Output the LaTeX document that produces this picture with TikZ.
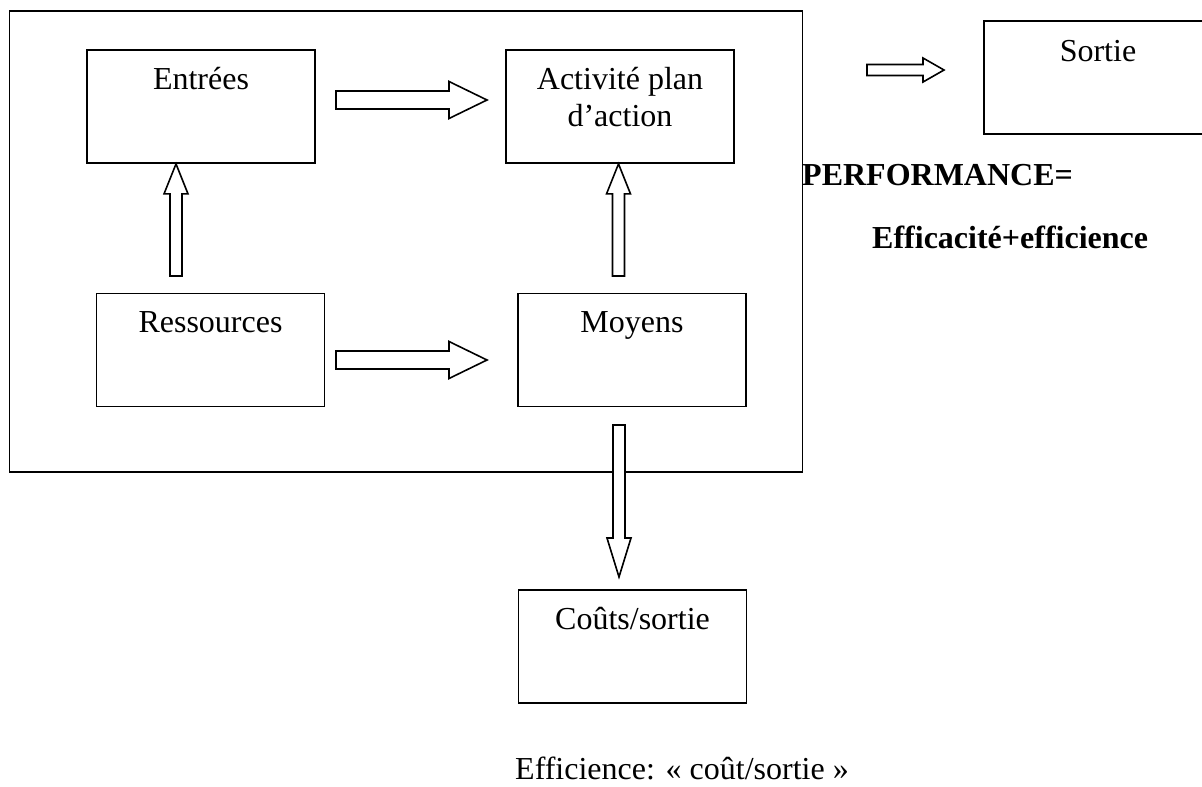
\documentclass[tikz,border=0pt]{standalone}
\usepackage{fontspec}
\setmainfont{Liberation Serif}
\usetikzlibrary{calc}

% Outlined block arrow from a tail point to a tip point:
% #1 tail, #2 tip, #3 shaft half-width, #4 head half-width, #5 head length
\newcommand\blockarrow[5]{%
  \draw[barrow] let \p1=(#1), \p2=(#2),
      \n1={veclen(\x2-\x1,\y2-\y1)},
      \n2={(\x2-\x1)/\n1}, \n3={(\y2-\y1)/\n1}
    in ({\x1-#3*\n3},{\y1+#3*\n2})
    -- ({\x2-#5*\n2-#3*\n3},{\y2-#5*\n3+#3*\n2})
    -- ({\x2-#5*\n2-#4*\n3},{\y2-#5*\n3+#4*\n2})
    -- (\p2)
    -- ({\x2-#5*\n2+#4*\n3},{\y2-#5*\n3-#4*\n2})
    -- ({\x2-#5*\n2+#3*\n3},{\y2-#5*\n3-#3*\n2})
    -- ({\x1+#3*\n3},{\y1-#3*\n2}) -- cycle;}

\begin{document}
\begin{tikzpicture}[x=1pt,y=1pt,
  box/.style={draw=black, line width=1.8pt, minimum width=228pt, minimum height=113pt, inner sep=0pt},
  frame/.style={draw=black, line width=1.8pt, inner sep=0pt},
  lbl/.style={anchor=base, inner sep=0pt, font=\fontsize{32}{37}\selectfont},
  bold/.style={anchor=base west, inner sep=0pt, font=\fontsize{32}{37}\selectfont\bfseries},
  barrow/.style={draw=black, fill=white, line width=1.6pt, line join=miter}]

\useasboundingbox (0,0) rectangle (1202,-787);

% system frame
\node[frame, minimum width=793pt, minimum height=461pt] (sys) at (406,-241.5) {};

% boxes
\node[box] (ent) at (201,-106.5) {};
\node[box] (act) at (620,-106.5) {};
\node[box] (res) at (210.5,-350) {};
\node[box] (moy) at (632,-350) {};
\node[box] (sor) at (1098,-77.5) {};
\node[box] (cou) at (632.5,-646.5) {};

% box labels
\node[lbl] (entT) at ([yshift=-40pt]ent.north) {Entrées};
\node[lbl] (actT) at ([yshift=-40pt]act.north)
  {\begin{tabular}[t]{@{}c@{}}Activité plan\\d’action\end{tabular}};
\node[lbl] (resT) at ([yshift=-40pt]res.north) {Ressources};
\node[lbl] (moyT) at ([yshift=-40pt]moy.north) {Moyens};
\node[lbl] (sorT) at ([yshift=-41pt]sor.north) {Sortie};
\node[lbl] (couT) at ([yshift=-40pt]cou.north) {Coûts/sortie};

% free text
\node[bold] (perf) at (802,-185) {PERFORMANCE=};
\node[bold] (eff) at (872,-248) {Efficacité+efficience};
\node[anchor=base west, inner sep=0pt, font=\fontsize{32}{37}\selectfont] (effi) at (515,-779)
  {Efficience: « coût/sortie »};

% arrow end points
\coordinate (a1s) at (336,-100);
\coordinate (a1e) at (487,-100);
\coordinate (a2s) at (336,-360);
\coordinate (a2e) at (487,-360);
\coordinate (a3s) at (176,-276);
\coordinate (a3e) at ($(a3s |- ent.south)$);
\coordinate (a4s) at (618.5,-276);
\coordinate (a4e) at ($(a4s |- act.south)$);
\coordinate (a5s) at (619,-425);
\coordinate (a5e) at (619,-577);
\coordinate (a6s) at (867,-70);
\coordinate (a6e) at (944,-70);

% block arrows
\blockarrow{a1s}{a1e}{9}{18.5}{38}
\blockarrow{a2s}{a2e}{9}{18.5}{38}
\blockarrow{a3s}{a3e}{6}{12}{30}
\blockarrow{a4s}{a4e}{6}{12}{30}
\blockarrow{a5s}{a5e}{6}{12}{39}
\blockarrow{a6s}{a6e}{5.5}{12}{21}

\end{tikzpicture}
\end{document}
